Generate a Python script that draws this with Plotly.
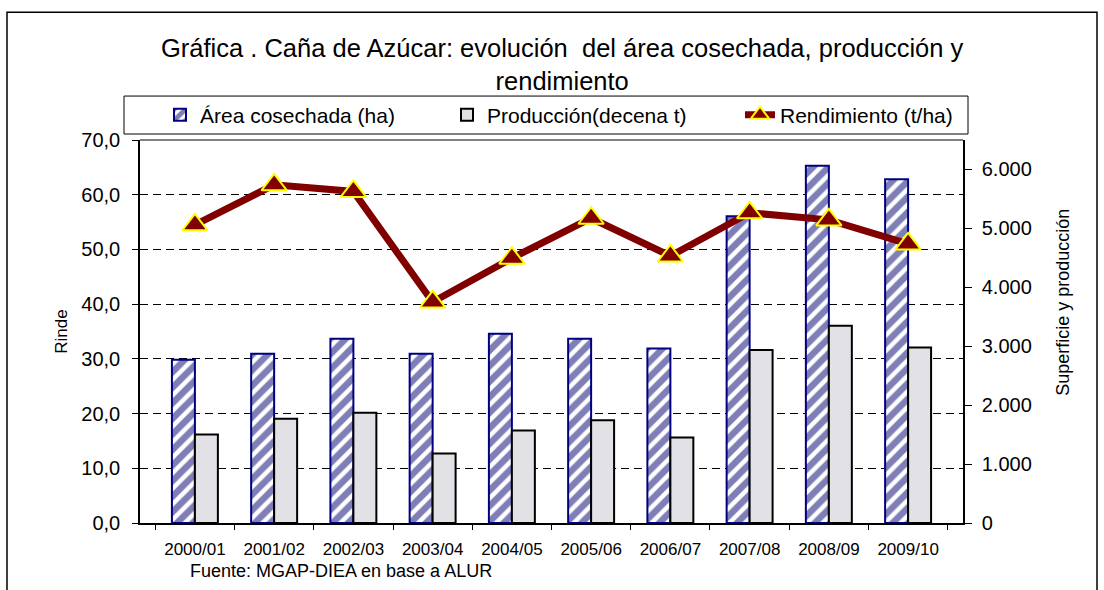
import plotly.graph_objects as go

categories = ["2000/01", "2001/02", "2002/03", "2003/04", "2004/05",
              "2005/06", "2006/07", "2007/08", "2008/09", "2009/10"]
area_ha = [2771, 2873, 3127, 2873, 3212, 3127, 2963, 5207, 6064, 5834]
produccion_decena_t = [1500, 1771, 1873, 1178, 1568, 1742, 1449, 2936, 3347, 2980]
rendimiento_t_ha = [54.5, 61.8, 60.6, 40.4, 48.4, 55.7, 48.8, 56.7, 55.4, 51.0]
left_ticks = [0, 10, 20, 30, 40, 50, 60, 70]
right_ticks = [0, 1000, 2000, 3000, 4000, 5000, 6000]

FONT = "Liberation Sans, Arial, sans-serif"
L, R, T, B = 140, 963, 140, 523.5
W, H = 1104, 590


def px(xp):
    return (xp - L) / (R - L)


def py(yp):
    return (B - yp) / (B - T)


fig = go.Figure()
fig.add_trace(go.Bar(
    x=categories, y=area_ha, name="Área cosechada (ha)", yaxis="y",
    marker=dict(color="white", line=dict(color="#000080", width=2),
                pattern=dict(shape="/", fgcolor="#000070", bgcolor="white",
                             size=11, solidity=0.6)),
    legend="legend",
))
fig.add_trace(go.Bar(
    x=categories, y=produccion_decena_t, name="Producción(decena t)", yaxis="y",
    marker=dict(color="#e2e2e6", line=dict(color="black", width=2)),
    legend="legend2",
))
fig.add_trace(go.Scatter(
    x=categories, y=rendimiento_t_ha, name="Rendimiento (t/ha)", yaxis="y2",
    mode="lines+markers",
    line=dict(color="#800000", width=7),
    marker=dict(symbol="triangle-up", size=22, color="#800000",
                line=dict(color="#FFFF00", width=2)),
    legend="legend3",
))

legfont = dict(family=FONT, size=21, color="black")
ly = py(115)
fig.update_layout(
    width=W, height=H,
    margin=dict(l=L, r=W - R, t=T, b=H - B, pad=0, autoexpand=False),
    paper_bgcolor="white", plot_bgcolor="white",
    separators=",.",
    barmode="group", bargap=0.42, bargroupgap=0,
    font=dict(family=FONT, color="black"),
    showlegend=True,
    legend=dict(x=px(160), y=ly, xanchor="left", yanchor="middle",
                bgcolor="rgba(0,0,0,0)", font=legfont),
    legend2=dict(x=px(447), y=ly, xanchor="left", yanchor="middle",
                 bgcolor="rgba(0,0,0,0)", font=legfont),
    legend3=dict(x=px(740), y=ly, xanchor="left", yanchor="middle",
                 bgcolor="rgba(0,0,0,0)", font=legfont),
    xaxis=dict(type="category", tickson="boundaries", ticks="outside", ticklen=5,
               tickcolor="black", showline=True, linecolor="black", linewidth=1.5,
               showgrid=False, tickfont=dict(family=FONT, size=17),
               ticklabelstandoff=10),
    yaxis=dict(side="right", range=[0, 6500], tickvals=right_ticks,
               tickformat=",d", ticks="outside", ticklen=7, tickcolor="black",
               showline=True, linecolor="black", linewidth=1.5,
               showgrid=False, zeroline=False,
               tickfont=dict(family=FONT, size=20), ticklabelstandoff=6),
    yaxis2=dict(overlaying="y", side="left", range=[0, 70], tickvals=left_ticks,
                tickformat=".1f", ticks="outside", ticklen=6, tickcolor="black",
                showline=True, linecolor="black", linewidth=1.5,
                showgrid=True, gridcolor="black", gridwidth=1,
                griddash="8px,5px", zeroline=False,
                tickfont=dict(family=FONT, size=20), ticklabelstandoff=8),
    shapes=[
        dict(type="line", xref="paper", yref="paper", x0=0, x1=1, y0=1, y1=1,
             line=dict(color="#808080", width=2)),
        dict(type="rect", xref="paper", yref="paper",
             x0=px(124), x1=px(968), y0=py(134), y1=py(96),
             line=dict(color="black", width=1), fillcolor="rgba(0,0,0,0)"),
        dict(type="rect", xref="paper", yref="paper",
             x0=px(7), x1=px(1097), y0=py(605), y1=py(12),
             line=dict(color="black", width=1.5), fillcolor="rgba(0,0,0,0)"),
    ],
    annotations=[
        dict(text="Gráfica . Caña de Azúcar: evolución  del área cosechada, producción y"
                  "<br>rendimiento",
             xref="paper", yref="paper", x=px(562), y=py(64),
             xanchor="center", yanchor="middle", showarrow=False,
             font=dict(family=FONT, size=25.5)),
        dict(text="Rinde", xref="paper", yref="paper", x=px(62), y=py(332),
             xanchor="center", yanchor="middle", textangle=-90, showarrow=False,
             font=dict(family=FONT, size=17)),
        dict(text="Superficie y producción", xref="paper", yref="paper",
             x=px(1063), y=py(303), xanchor="center", yanchor="middle",
             textangle=-90, showarrow=False, font=dict(family=FONT, size=18)),
        dict(text="Fuente: MGAP-DIEA en base a ALUR", xref="paper", yref="paper",
             x=px(188), y=py(572), xanchor="left", yanchor="middle",
             showarrow=False, font=dict(family=FONT, size=18)),
    ],
)

fig.write_html("out.html", config={"displayModeBar": False},
               post_script="document.body.style.margin='0';document.body.style.overflow='hidden';")
